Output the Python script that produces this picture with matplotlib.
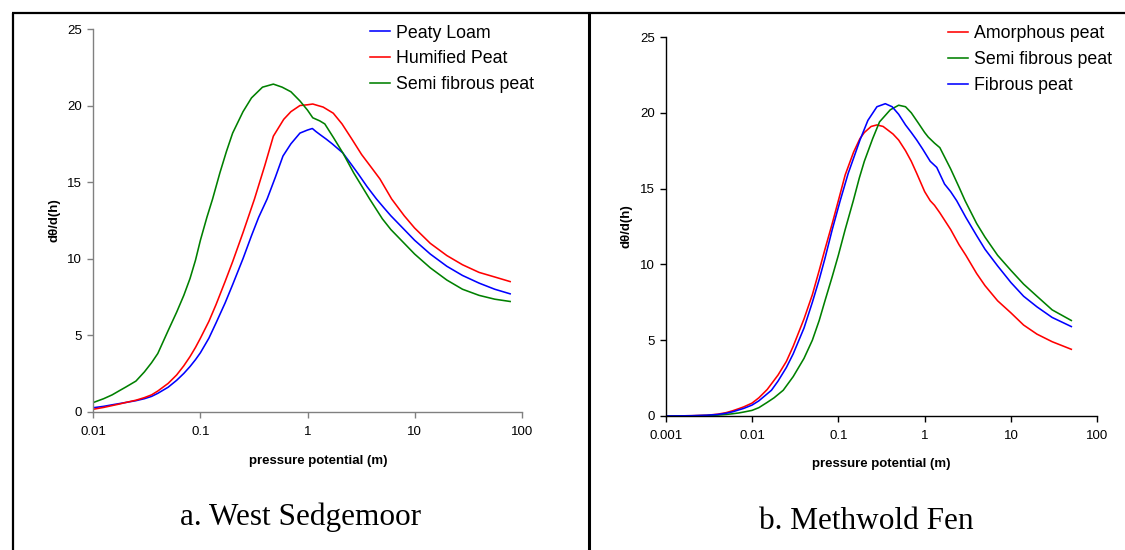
import matplotlib
matplotlib.use("Agg")
import matplotlib.pyplot as plt
from matplotlib.lines import Line2D

plt.rcParams['font.family'] = ['Liberation Sans', 'DejaVu Sans']

# ---------------- data: West Sedgemoor ----------------
ws_peaty_x = [0.01, 0.0125, 0.015, 0.0175, 0.02, 0.025, 0.03, 0.035, 0.04, 0.05, 0.06, 0.07, 0.08,
              0.09, 0.1, 0.12, 0.14, 0.17, 0.2, 0.25, 0.3, 0.35, 0.42, 0.5, 0.59, 0.7, 0.85, 1.0,
              1.11, 1.2, 1.31, 1.5, 1.7, 2.14, 2.6, 3.0, 3.6, 4.4, 5.2, 6, 8, 10, 14, 20, 28,
              40, 56, 78]
ws_peaty_y = [0.26, 0.35, 0.45, 0.53, 0.6, 0.72, 0.85, 1.0, 1.2, 1.6, 2.05, 2.5, 2.95,
              3.4, 3.85, 4.8, 5.8, 7.1, 8.3, 10.0, 11.5, 12.7, 13.9, 15.3, 16.7, 17.5, 18.2, 18.4,
              18.5, 18.3, 18.1, 17.8, 17.5, 16.9, 16.1, 15.5, 14.7, 13.9, 13.3, 12.8, 11.9, 11.2,
              10.3, 9.5, 8.9, 8.4, 8.0, 7.7]

ws_humified_x = [0.01, 0.0125, 0.015, 0.0175, 0.02, 0.025, 0.03, 0.035, 0.04, 0.05, 0.06, 0.07,
                 0.08, 0.09, 0.1, 0.12, 0.14, 0.17, 0.2, 0.25, 0.32, 0.4, 0.48, 0.6, 0.7, 0.85,
                 1.0, 1.12, 1.25, 1.4, 1.74, 2.1, 2.6, 3.2, 4.0, 4.75, 6.1, 8, 10, 14, 20, 28,
                 40, 56, 78]
ws_humified_y = [0.16, 0.28, 0.4, 0.5, 0.6, 0.75, 0.92, 1.1, 1.35, 1.85, 2.4, 3.0,
                 3.6, 4.2, 4.8, 5.9, 7.0, 8.5, 9.8, 11.7, 13.9, 16.1, 18.0, 19.1, 19.6, 20.0,
                 20.05, 20.1, 20.0, 19.9, 19.5, 18.8, 17.8, 16.8, 15.9, 15.2, 13.9, 12.8, 12.0,
                 11.0, 10.2, 9.6, 9.1, 8.8, 8.5]

ws_semi_x = [0.01, 0.0125, 0.015, 0.0178, 0.02, 0.025, 0.03, 0.035, 0.04, 0.05, 0.06, 0.07, 0.08,
             0.09, 0.1, 0.115, 0.13, 0.152, 0.175, 0.2, 0.25, 0.3, 0.38, 0.48, 0.58, 0.7, 0.85,
             1.0, 1.12, 1.3, 1.45, 1.75, 2.14, 2.7, 3.8, 5, 6, 8, 10, 14, 20, 28, 40, 56, 78]
ws_semi_y = [0.6, 0.85, 1.1, 1.4, 1.6, 2.0, 2.6, 3.2, 3.8, 5.3, 6.5, 7.6, 8.7,
             9.9, 11.2, 12.7, 13.9, 15.6, 17.0, 18.2, 19.6, 20.5, 21.2, 21.4, 21.2, 20.9, 20.3,
             19.7, 19.2, 19.0, 18.8, 17.9, 16.9, 15.6, 13.9, 12.6, 11.9, 11.0, 10.3, 9.4, 8.6,
             8.0, 7.6, 7.35, 7.2]

# ---------------- data: Methwold Fen ----------------
mf_amorph_x = [0.001, 0.0015, 0.002, 0.003, 0.004, 0.005, 0.006, 0.007, 0.008, 0.01, 0.012,
               0.015, 0.02, 0.025, 0.03, 0.04, 0.05, 0.06, 0.07, 0.085, 0.1, 0.12, 0.15, 0.178,
               0.2, 0.24, 0.28, 0.33, 0.43, 0.5, 0.6, 0.7, 0.81, 0.9, 1.0, 1.16, 1.3, 1.5, 2.0,
               2.5, 3.0, 4, 5, 7, 10, 14, 20, 30, 50]
mf_amorph_y = [0.0, 0.01, 0.02, 0.05, 0.12, 0.22, 0.35, 0.48, 0.6, 0.85, 1.2,
               1.75, 2.7, 3.6, 4.6, 6.4, 8.0, 9.6, 11.0, 12.7, 14.2, 15.9, 17.4, 18.3,
               18.7, 19.1, 19.2, 19.1, 18.6, 18.2, 17.5, 16.8, 16.0, 15.4, 14.8, 14.2, 13.9, 13.4,
               12.3, 11.3, 10.6, 9.4, 8.6, 7.6, 6.8, 6.0, 5.4, 4.9, 4.4]

mf_semi_x = [0.001, 0.002, 0.003, 0.004, 0.005, 0.006, 0.007, 0.008, 0.01, 0.012, 0.015, 0.018,
             0.023, 0.03, 0.04, 0.05, 0.06, 0.07, 0.085, 0.1, 0.12, 0.149, 0.175, 0.2, 0.25,
             0.3, 0.4, 0.5, 0.6, 0.7, 0.85, 1.0, 1.1, 1.3, 1.5, 2.0, 2.5, 2.94, 4, 5, 7, 10,
             14, 20, 30, 50]
mf_semi_y = [0.0, 0.01, 0.03, 0.06, 0.1, 0.15, 0.2, 0.26, 0.37, 0.55, 0.9, 1.2,
             1.7, 2.6, 3.8, 5.0, 6.3, 7.6, 9.2, 10.6, 12.3, 14.2, 15.7, 16.8, 18.3,
             19.4, 20.2, 20.5, 20.4, 20.0, 19.3, 18.7, 18.4, 18.0, 17.7, 16.3, 15.1, 14.2, 12.7,
             11.8, 10.6, 9.6, 8.7, 7.9, 7.0, 6.3]

mf_fibrous_x = [0.001, 0.0015, 0.002, 0.003, 0.004, 0.005, 0.006, 0.007, 0.008, 0.01, 0.012,
                0.0168, 0.02, 0.025, 0.03, 0.04, 0.05, 0.06, 0.07, 0.085, 0.105, 0.13, 0.15,
                0.178, 0.22, 0.28, 0.35, 0.42, 0.5, 0.6, 0.7, 0.81, 0.95, 1.16, 1.38, 1.7, 2.0,
                2.35, 3, 4, 5, 7, 10, 14, 20, 30, 50]
mf_fibrous_y = [0.0, 0.01, 0.02, 0.05, 0.1, 0.18, 0.28, 0.4, 0.5, 0.72, 1.0,
                1.7, 2.3, 3.2, 4.1, 5.8, 7.5, 9.0, 10.4, 12.3, 14.2, 16.0, 17.0,
                18.2, 19.5, 20.4, 20.6, 20.4, 19.9, 19.2, 18.7, 18.2, 17.6, 16.8, 16.4, 15.3, 14.8,
                14.2, 13.1, 11.9, 11.0, 9.9, 8.8, 7.9, 7.2, 6.5, 5.9]

ws_ticks = [0.01, 0.1, 1, 10, 100]
ws_ticklabels = ['0.01', '0.1', '1', '10', '100']
mf_ticks = [0.001, 0.01, 0.1, 1, 10, 100]
mf_ticklabels = ['0.001', '0.01', '0.1', '1', '10', '100']
y_ticks = [0, 5, 10, 15, 20, 25]

W, H = 1125, 550
fig = plt.figure(figsize=(W / 100, H / 100), dpi=100)
fig.patch.set_facecolor('white')


def frac(x0, x1, y_top, y_bot):
    return [x0 / W, 1 - y_bot / H, (x1 - x0) / W, (y_bot - y_top) / H]


ax1 = fig.add_axes(frac(93.3, 521.7, 29, 411.7))
ax2 = fig.add_axes(frac(665.7, 1097.3, 37, 416))

lw = 1.15
ax1.plot(ws_peaty_x, ws_peaty_y, color='#0000ff', lw=lw, label='Peaty Loam')
ax1.plot(ws_humified_x, ws_humified_y, color='#ff0000', lw=lw, label='Humified Peat')
ax1.plot(ws_semi_x, ws_semi_y, color='#008000', lw=lw, label='Semi fibrous peat')

ax2.plot(mf_amorph_x, mf_amorph_y, color='#ff0000', lw=lw, label='Amorphous peat')
ax2.plot(mf_semi_x, mf_semi_y, color='#008000', lw=lw, label='Semi fibrous peat')
ax2.plot(mf_fibrous_x, mf_fibrous_y, color='#0000ff', lw=lw, label='Fibrous peat')

for ax, ticks, labels, lim, spc in [(ax1, ws_ticks, ws_ticklabels, (0.01, 100), '#808080'),
                                     (ax2, mf_ticks, mf_ticklabels, (0.001, 100), '#000000')]:
    ax.set_xscale('log')
    ax.set_xlim(*lim)
    ax.set_ylim(0, 25)
    ax.set_xticks(ticks)
    ax.set_xticklabels(labels)
    ax.minorticks_off()
    ax.set_yticks(y_ticks)
    ax.set_yticklabels([str(v) for v in y_ticks])
    for s in ['top', 'right']:
        ax.spines[s].set_visible(False)
    for s in ['left', 'bottom']:
        ax.spines[s].set_color(spc)
        ax.spines[s].set_linewidth(1.0)
    ax.tick_params(axis='both', direction='out', length=4, width=1.0, color=spc,
                   labelsize=9.5, labelcolor='black')
    ax.tick_params(axis='x', pad=6)
    ax.tick_params(axis='y', pad=4)
    ax.patch.set_alpha(0)

ax1.set_ylabel('dθ/d(h)', fontsize=9.5, fontweight='bold', labelpad=5)
ax2.set_ylabel('dθ/d(h)', fontsize=9.5, fontweight='bold', labelpad=5)

fig.text(318 / W, 1 - 461 / H, 'pressure potential (m)', fontsize=9.5, fontweight='bold',
         ha='center', va='center')
fig.text(881.5 / W, 1 - 464 / H, 'pressure potential (m)', fontsize=9.5, fontweight='bold',
         ha='center', va='center')

fig.text(301 / W, 1 - 525 / H, 'a. West Sedgemoor', fontsize=22.5, family='Liberation Serif',
         ha='center', va='baseline')
fig.text(866 / W, 1 - 529 / H, 'b. Methwold Fen', fontsize=22.5, family='Liberation Serif',
         ha='center', va='baseline')

leg_kw = dict(frameon=False, fontsize=12.8, handlelength=1.15, handletextpad=0.3,
              labelspacing=0.5, borderpad=0, borderaxespad=0, loc='upper left')
fig.legend(handles=ax1.get_lines(), bbox_to_anchor=(370 / W, 1 - 24.5 / H), **leg_kw)
fig.legend(handles=ax2.get_lines(), bbox_to_anchor=(948 / W, 1 - 25 / H), **leg_kw)

# frame lines
y_top = 1 - 13 / H
fig.add_artist(Line2D([12 / W, 1.0], [y_top, y_top], color='black', lw=1.6,
                      solid_capstyle='butt', transform=fig.transFigure))
fig.add_artist(Line2D([13 / W, 13 / W], [0, y_top], color='black', lw=1.6,
                      solid_capstyle='butt', transform=fig.transFigure))
fig.add_artist(Line2D([588.5 / W, 588.5 / W], [0, y_top], color='black', lw=2.2,
                      solid_capstyle='butt', transform=fig.transFigure))

fig.savefig('out.png', dpi=100, facecolor='white')
